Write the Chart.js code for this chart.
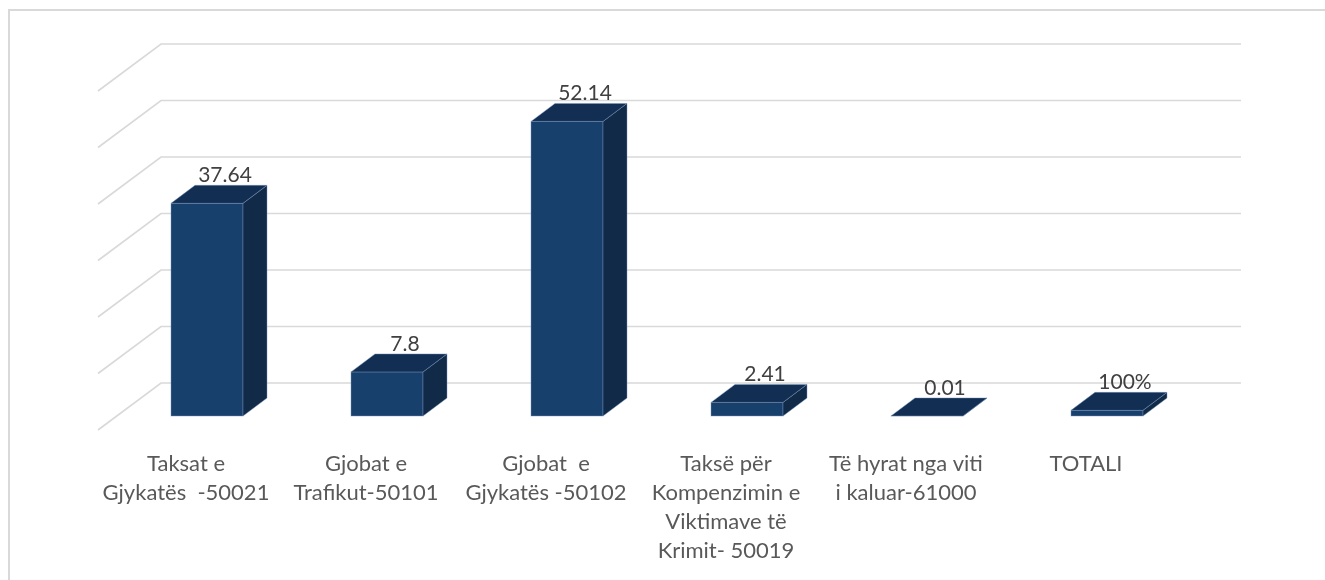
<!DOCTYPE html>
<html lang="sq">
<head>
    <meta charset="UTF-8">
    <title>Të hyrat sipas kategorive</title>
    <script src="https://cdn.jsdelivr.net/npm/chart.js"></script>
    <style>
        body { margin: 0; padding: 0; background: #fff; }
        #chart { display: block; }
    </style>
</head>
<body>

<canvas id="chart" width="1325" height="580"></canvas>

<script>
    // Data
    const categories = [
        ['Taksat e', 'Gjykatës  -50021'],
        ['Gjobat e', 'Trafikut-50101'],
        ['Gjobat  e', 'Gjykatës -50102'],
        ['Taksë për', 'Kompenzimin e', 'Viktimave të', 'Krimit- 50019'],
        ['Të hyrat nga viti', 'i kaluar-61000'],
        ['TOTALI']
    ];
    const values = [37.64, 7.8, 52.14, 2.41, 0.01, 1];
    const valueLabels = ['37.64', '7.8', '52.14', '2.41', '0.01', '100%'];
    const yMin = 0, yMax = 60, yStep = 10;

    // depth of the bars and of the floor
    const DX = 24, DY = 18;
    const WALL_DX = 44, WALL_DY = 33;
    const FLOOR_DX = 63, FLOOR_DY = 47;

    const frontColor = '#18406c';
    const sideColor = '#112a48';
    const topColor = '#122f53';
    const edgeColor = 'rgba(120,150,190,0.55)';

    function face(ctx, pts, fill) {
        ctx.beginPath();
        ctx.moveTo(pts[0][0], pts[0][1]);
        for (let i = 1; i < pts.length; i++) ctx.lineTo(pts[i][0], pts[i][1]);
        ctx.closePath();
        ctx.fillStyle = fill;
        ctx.fill();
        ctx.strokeStyle = edgeColor;
        ctx.lineWidth = 0.8;
        ctx.stroke();
    }

    const box3d = {
        id: 'box3d',
        beforeDraw(chart) {
            const ctx = chart.ctx;
            ctx.save();
            ctx.fillStyle = '#fff';
            ctx.fillRect(0, 0, chart.width, chart.height);
            ctx.strokeStyle = '#d9d9d9';
            ctx.lineWidth = 2;
            ctx.strokeRect(9, 10, chart.width + 20, chart.height + 20);
            ctx.restore();
        },
        beforeDatasetsDraw(chart) {
            const ctx = chart.ctx, area = chart.chartArea, ys = chart.scales.y;
            ctx.save();
            ctx.strokeStyle = '#d9d9d9';
            ctx.lineWidth = 1.6;
            ys.ticks.forEach(t => {
                const y = ys.getPixelForValue(t.value) - WALL_DY;
                const x0 = area.left + WALL_DX;
                ctx.beginPath();
                ctx.moveTo(x0 - FLOOR_DX, y + FLOOR_DY);
                ctx.lineTo(x0, y);
                ctx.lineTo(area.right + WALL_DX, y);
                ctx.stroke();
            });
            ctx.restore();
        },
        afterDatasetsDraw(chart) {
            const ctx = chart.ctx;
            const meta = chart.getDatasetMeta(0);
            ctx.save();
            meta.data.forEach((bar, i) => {
                const l = bar.x - bar.width / 2, r = bar.x + bar.width / 2;
                const top = bar.y, base = bar.base;
                // front face outline
                ctx.strokeStyle = edgeColor;
                ctx.lineWidth = 0.8;
                ctx.strokeRect(l, top, r - l, base - top);
                // side
                face(ctx, [[r, top], [r + DX, top - DY], [r + DX, base - DY], [r, base]], sideColor);
                // top
                face(ctx, [[l, top], [l + DX, top - DY], [r + DX, top - DY], [r, top]], topColor);
                // value label
                ctx.fillStyle = '#404040';
                ctx.font = '21px Lato, "Open Sans", sans-serif';
                ctx.textAlign = 'center';
                ctx.textBaseline = 'alphabetic';
                ctx.fillText(valueLabels[i], bar.x + DX / 2 + 6, top - DY - 3);
            });
            ctx.restore();
        }
    };

    new Chart(document.getElementById('chart'), {
        type: 'bar',
        data: {
            labels: categories,
            datasets: [{
                data: values,
                backgroundColor: frontColor,
                borderWidth: 0,
                barPercentage: 0.4,
                categoryPercentage: 1
            }]
        },
        options: {
            responsive: false,
            devicePixelRatio: 1,
            animation: false,
            layout: { padding: { left: 117, right: 128, top: 77, bottom: 0 } },
            plugins: { legend: { display: false }, tooltip: { enabled: false } },
            scales: {
                x: {
                    grid: { display: false },
                    border: { display: false },
                    afterFit: s => { s.height = 164; },
                    ticks: {
                        autoSkip: false,
                        maxRotation: 0,
                        padding: 25,
                        labelOffset: -21,
                        color: '#595959',
                        font: { family: 'Lato, "Open Sans", sans-serif', size: 22, lineHeight: 1.32 }
                    }
                },
                y: {
                    display: false,
                    min: yMin,
                    max: yMax,
                    ticks: { stepSize: yStep }
                }
            }
        },
        plugins: [box3d]
    });
</script>

</body>
</html>
